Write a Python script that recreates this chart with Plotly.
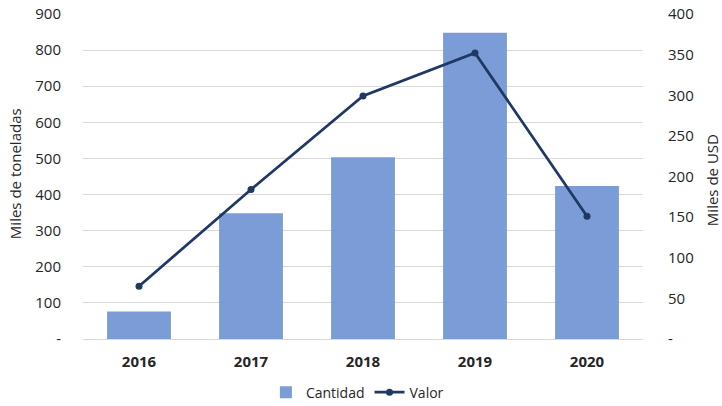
import plotly.graph_objects as go

years = ["2016", "2017", "2018", "2019", "2020"]
cantidad = [76, 348, 503, 848, 424]
valor = [65, 184, 299, 352, 151]

left_ticks = [0, 100, 200, 300, 400, 500, 600, 700, 800, 900]
left_text = ["-", "100", "200", "300", "400", "500", "600", "700", "800", "900"]
right_ticks = [0, 50, 100, 150, 200, 250, 300, 350, 400]
right_text = ["-", "50", "100", "150", "200", "250", "300", "350", "400"]

font_family = "Open Sans"
text_color = "#262626"

fig = go.Figure()
fig.add_trace(go.Bar(
    x=years, y=cantidad, name="Cantidad",
    marker=dict(color="#7b9cd6", line=dict(width=0)),
    width=0.57,
))
fig.add_trace(go.Scatter(
    x=years, y=valor, name="Valor", yaxis="y2",
    mode="lines+markers",
    line=dict(color="#1f3864", width=2.75),
    marker=dict(color="#1f3864", size=7),
))

fig.update_layout(
    width=722, height=406,
    margin=dict(l=83, r=79, t=14, b=67, autoexpand=False),
    paper_bgcolor="white", plot_bgcolor="white",
    font=dict(family=font_family, size=15, color=text_color),
    showlegend=True,
    legend=dict(orientation="h", x=0.49, xanchor="center", y=-0.165, yanchor="middle",
                font=dict(size=14), traceorder="normal"),
    xaxis=dict(
        tickfont=dict(size=15, color=text_color, family=font_family),
        tickprefix="<b>", ticksuffix="</b>",
        showgrid=False, showline=False,
        ticks="outside", ticklen=9, tickcolor="rgba(0,0,0,0)",
        automargin=False,
    ),
    yaxis=dict(
        range=[0, 900], tickvals=left_ticks, ticktext=left_text,
        showgrid=True, gridcolor="#d9d9d9", gridwidth=1,
        zeroline=True, zerolinecolor="#d9d9d9", zerolinewidth=1,
        ticks="outside", ticklen=18, tickcolor="rgba(0,0,0,0)",
        automargin=False,
    ),
    yaxis2=dict(
        range=[0, 400], tickvals=right_ticks, ticktext=right_text,
        overlaying="y", side="right", showgrid=False, zeroline=False,
        ticks="outside", ticklen=21, tickcolor="rgba(0,0,0,0)",
        automargin=False,
    ),
    bargap=0.43,
    annotations=[
        dict(text="Miles de toneladas", xref="paper", yref="paper",
             x=-(83 - 15) / 560, y=(339 - 174) / 325.3, textangle=-90,
             showarrow=False, xanchor="center", yanchor="middle",
             font=dict(size=15, color=text_color)),
        dict(text="Miles de USD", xref="paper", yref="paper",
             x=1 + (712 - 643) / 560, y=(339 - 180) / 325.3, textangle=-90,
             showarrow=False, xanchor="center", yanchor="middle",
             font=dict(size=15, color=text_color)),
    ],
)

fig.write_html("out.html",
               config={"displayModeBar": False},
               post_script="document.body.style.margin='0';document.body.style.overflow='hidden';")
